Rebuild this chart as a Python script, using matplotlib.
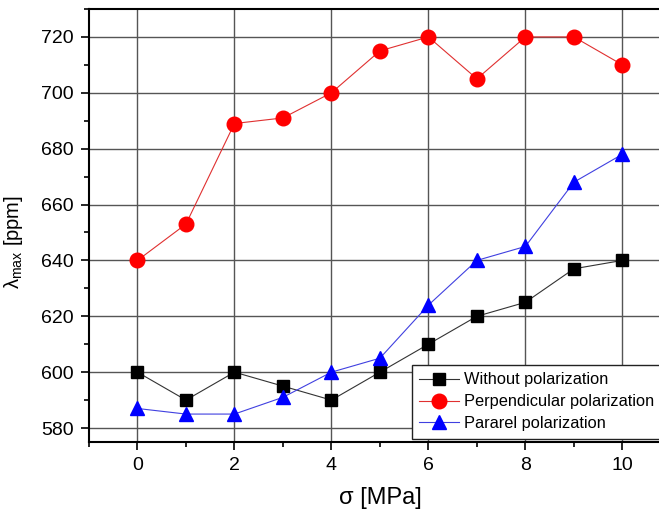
import matplotlib.pyplot as plt
from matplotlib.ticker import MultipleLocator

plt.rcParams['font.family'] = ['Liberation Sans', 'DejaVu Sans']
plt.rcParams['mathtext.fontset'] = 'custom'
plt.rcParams['mathtext.rm'] = 'Liberation Sans'

# stress values and peak wavelength readings
sigma = [0, 1, 2, 3, 4, 5, 6, 7, 8, 9, 10]
without_pol = [600, 590, 600, 595, 590, 600, 610, 620, 625, 637, 640]
perp_pol = [640, 653, 689, 691, 700, 715, 720, 705, 720, 720, 710]
para_pol = [587, 585, 585, 591, 600, 605, 624, 640, 645, 668, 678]

fig = plt.figure(figsize=(6.59, 5.16), dpi=100)
# the original image is cropped on the right, so the axes run past the figure edge
ax = fig.add_axes([0.135, 0.1434, 0.883, 0.8392])

ax.plot(sigma, without_pol, '-', color='#333333', lw=0.8, marker='s', ms=9,
        mfc='black', mec='black', label='Without polarization')
ax.plot(sigma, perp_pol, '-', color='#e03030', lw=0.8, marker='o', ms=10.5,
        mfc='red', mec='red', label='Perpendicular polarization')
ax.plot(sigma, para_pol, '-', color='#4040e0', lw=0.8, marker='^', ms=10.5,
        mfc='blue', mec='blue', label='Pararel polarization')

ax.set_xlim(-1, 11)
ax.set_ylim(575, 730)
ax.xaxis.set_major_locator(MultipleLocator(2))
ax.xaxis.set_minor_locator(MultipleLocator(1))
ax.yaxis.set_major_locator(MultipleLocator(20))
ax.yaxis.set_minor_locator(MultipleLocator(10))
ax.tick_params(which='both', direction='out', labelsize=14, width=1.2)
ax.tick_params(which='major', length=6)
ax.tick_params(which='minor', length=3.5)
ax.tick_params(axis='x', pad=5)
ax.tick_params(axis='y', pad=5)
ax.grid(True, which='major', color='#555555', lw=1.0)
for sp in ax.spines.values():
    sp.set_linewidth(1.5)

ax.set_xlabel('σ [MPa]', fontsize=17, labelpad=9)
ax.set_ylabel('λ$_{\\mathrm{max}}$ [ppm]', fontsize=14.5)
ax.yaxis.set_label_coords(-0.11, 0.462)

leg = ax.legend(loc='upper left', bbox_to_anchor=(0.625, 0.2926),
                bbox_transform=fig.transFigure, fontsize=11.8, frameon=True,
                fancybox=False, edgecolor='#222222', framealpha=1,
                handlelength=2.4, borderpad=0.45, labelspacing=0.42,
                handletextpad=0.3, borderaxespad=0)
leg.get_frame().set_linewidth(1.0)

fig.savefig('out.png', dpi=100)
